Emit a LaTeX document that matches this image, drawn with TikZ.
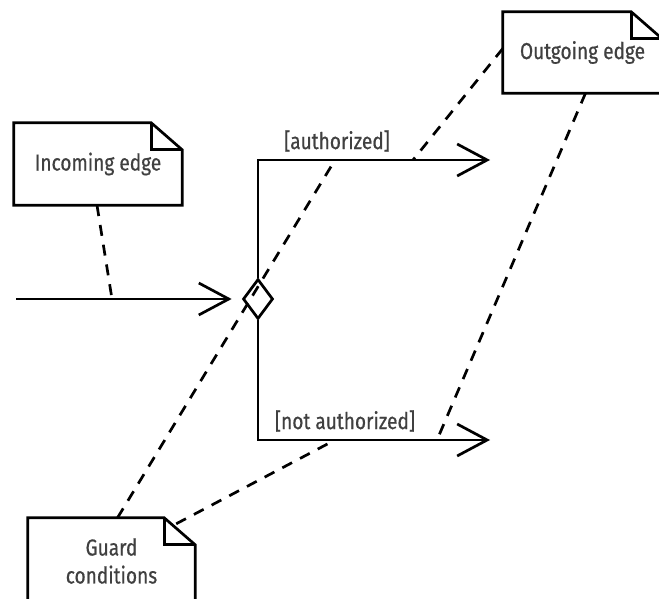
\documentclass[tikz,border=0pt]{standalone}
\usepackage{fontspec}
\setmainfont[FakeStretch=0.83,FakeBold=0.6]{Fira Sans}
\usetikzlibrary{shapes.geometric,arrows.meta}

% dog-eared note outline around a node
\newcommand{\dogear}[1]{%
  \draw[line width=2.7pt] ([xshift=-31pt]#1.north east) -- (#1.north west)
    -- (#1.south west) -- (#1.south east) -- ([yshift=-27pt]#1.north east) -- cycle;
  \draw[line width=2.7pt] ([xshift=-31pt]#1.north east) |- ([yshift=-27pt]#1.north east);
}

\begin{document}
\begin{tikzpicture}
    [x=1pt,y=-1pt,
     every node/.style={font=\fontsize{23}{28}\selectfont,text=black!75},
     note/.style={inner sep=0pt,align=center,minimum width=#1},
     flow/.style={line width=2.7pt,-{Straight Barb[length=30pt,width=32pt,line width=2.7pt]}},
     anchorline/.style={line width=2.7pt,dash pattern=on 11pt off 9pt}]
    \useasboundingbox (0,0) rectangle (659,599);

    % notes
    \node[note=168pt,minimum height=82pt] (inNote) at (98,164) {Incoming edge};
    \node[note=159pt,minimum height=81pt] (outNote) at (582.5,52.5) {Outgoing edge};
    \node[note=167pt,minimum height=86pt] (guardNote) at (111.5,561) {Guard\\conditions};
    \dogear{inNote}
    \dogear{outNote}
    \dogear{guardNote}

    % decision
    \node[diamond,draw,line width=2.7pt,inner sep=0pt,minimum width=30pt,minimum height=40pt] (dec) at (258,299) {};
    \coordinate (start) at (16,299);
    \coordinate (authEnd) at (490,160);
    \coordinate (notEnd) at (490,440);

    \draw[flow,shorten >=10pt] (start) -- (dec.west);
    \draw[flow] (dec.north) |- (authEnd);
    \draw[flow] (dec.south) |- (notEnd);

    \node (auth) at (337,141) {[authorized]};
    \node (notAuth) at (345,421) {[not authorized]};

    % anchor lines
    \coordinate (inHit) at (112,299);
    \coordinate (a1) at (413,160);
    \coordinate (a2) at (335,160);
    \coordinate (b1) at (437,440);
    \coordinate (b2) at (335,440);

    \draw[anchorline] ([xshift=-1pt]inNote.south) -- (inHit);
    \draw[anchorline] ([yshift=4pt]outNote.west) -- (a1);
    \draw[anchorline] ([xshift=3pt]outNote.south) -- (b1);
    \draw[anchorline] ([xshift=6pt]guardNote.north) -- (a2);
    \draw[anchorline] ([xshift=-19pt,yshift=-6pt]guardNote.north east) -- (b2);
  \end{tikzpicture}
\end{document}
